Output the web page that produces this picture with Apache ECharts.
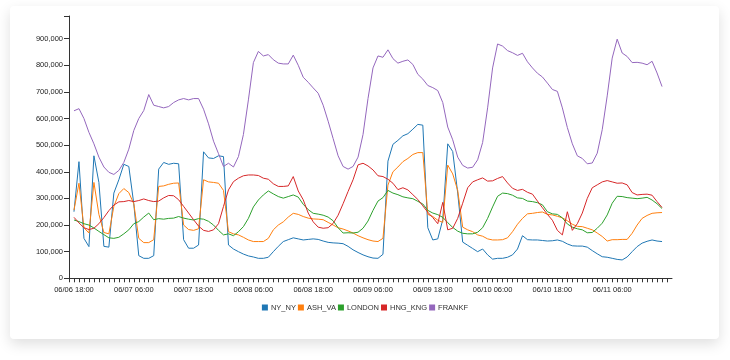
<!DOCTYPE html>
<html>
<head>
<meta charset="utf-8">
<script src="https://cdn.jsdelivr.net/npm/echarts/dist/echarts.min.js"></script>
<style>
  html, body { margin: 0; padding: 0; background: #ffffff; }
  #card { position: absolute; left: 10px; top: 6px; width: 709px; height: 333px; background: #fff;
          border-radius: 4px; box-shadow: 0 5px 14px rgba(0,0,0,0.13); }
  #chart { position: absolute; left: 0; top: 0; width: 730px; height: 360px; }
</style>
</head>
<body>
<div id="card"></div>
<div id="chart"></div>
<script>
// First sample: 06/06 18:00, one sample per hour (hours counted from 06/06 00:00)
const firstHour = 18;
const seriesNames = ['NY_NY', 'ASH_VA', 'LONDON', 'HNG_KNG', 'FRANKF'];
const seriesColors = ['#1f77b4', '#ff7f0e', '#2ca02c', '#d62728', '#9467bd'];

// values in thousands
const NY_NY = [
  250,438,150,119,460,360,120,117,320,370,428,420,280,85,75,75,85,410,435,428,432,430,145,113,113,125,475,452,450,460,
  457,125,110,100,91,84,80,75,75,79,100,120,138,145,152,148,144,146,148,146,140,135,133,132,130,120,107,97,88,81,
  76,75,90,440,503,518,535,543,560,578,575,190,144,148,220,505,476,320,136,124,112,100,110,88,72,75,75,79,88,110,
  160,145,144,144,142,140,141,144,139,129,122,121,121,117,104,92,81,79,75,71,69,80,100,119,132,139,144,140,138
];
const ASH_VA = [
  256,357,190,170,360,240,172,167,270,318,337,322,280,150,134,134,145,345,347,353,357,358,200,183,180,186,370,362,360,357,
  330,175,167,163,154,144,138,138,138,150,182,200,212,230,244,240,232,226,223,222,220,210,200,190,185,178,170,160,152,145,
  140,138,150,350,400,418,438,450,465,472,472,240,232,218,210,425,392,330,192,182,175,163,158,148,144,144,145,152,175,203,
  225,242,244,247,249,240,238,233,227,216,203,195,194,188,182,170,157,140,145,145,146,146,169,200,225,236,244,246,247
];
const LONDON = [
  219,213,205,200,189,176,164,152,150,154,167,182,205,213,230,245,220,224,222,225,226,232,226,222,219,224,222,214,200,180,
  163,167,160,175,194,225,268,294,313,328,317,307,301,307,313,305,278,258,244,241,237,230,216,190,170,171,170,173,188,215,
  255,290,303,330,320,314,306,302,299,289,279,255,245,239,229,209,191,177,169,167,167,173,190,225,268,308,320,318,312,302,
  300,290,288,284,276,250,242,240,227,204,192,186,182,171,172,188,207,238,282,308,307,303,301,299,301,304,294,280,262
];
const HNG_KNG = [
  229,208,190,183,188,205,228,254,275,287,288,292,288,292,298,292,288,290,302,311,310,295,270,245,220,196,180,176,182,205,
  270,332,363,376,385,388,388,386,376,372,355,345,345,347,382,328,295,245,212,192,188,190,206,237,280,326,370,426,432,422,
  407,385,382,372,357,333,340,332,314,296,272,248,228,205,285,182,188,225,282,340,362,370,377,365,366,375,382,358,338,330,
  334,323,316,290,265,240,218,180,163,250,180,205,245,300,340,351,362,367,362,357,358,351,322,313,315,316,312,288,266
];
const FRANKF = [
  629,637,600,548,505,455,418,398,390,405,435,485,555,600,630,690,650,645,640,645,660,670,675,670,675,675,635,580,515,468,
  420,432,418,457,540,670,810,852,835,840,821,808,805,805,838,800,755,736,715,695,650,590,525,460,420,410,420,455,540,675,
  790,835,830,858,825,808,815,820,803,766,748,724,716,705,660,568,520,455,424,414,417,445,510,640,790,880,872,855,847,837,
  845,813,790,770,756,733,709,702,640,566,505,460,450,430,433,470,558,685,827,898,846,833,810,811,808,802,815,771,720
];
const allValues = [NY_NY, ASH_VA, LONDON, HNG_KNG, FRANKF];

const font = "'Liberation Sans', Arial, sans-serif";
const pad = n => (n < 10 ? '0' : '') + n;

const chart = echarts.init(document.getElementById('chart'), null, { renderer: 'canvas' });
chart.setOption({
  animation: false,
  backgroundColor: 'transparent',
  grid: { left: 69, right: 58, top: 16, bottom: 81.7, containLabel: false },
  legend: {
    data: seriesNames,
    left: 'center',
    top: 298.5,
    icon: 'rect',
    itemWidth: 6,
    itemHeight: 6,
    itemGap: 2,
    textStyle: { fontSize: 7.5, color: '#333', fontFamily: font, padding: [0, 0, 0, -2] }
  },
  xAxis: {
    type: 'value',
    min: 17,
    max: 138,
    interval: 1,
    offset: 4,
    axisLine: { show: true, lineStyle: { color: '#333', width: 1 } },
    axisTick: { show: true, length: 4, lineStyle: { color: '#333', width: 1 } },
    splitLine: { show: false },
    axisLabel: {
      showMaxLabel: false,
      showMinLabel: true,
      margin: 4,
      fontSize: 7.5,
      color: '#222',
      fontFamily: font,
      formatter: function (h) {
        if (h % 12 !== 6) return '';
        const day = 6 + Math.floor(h / 24);
        return '06/' + pad(day) + ' ' + pad(h % 24) + ':00';
      }
    }
  },
  yAxis: {
    type: 'value',
    min: 0,
    max: 985,
    interval: 100,
    axisLine: { show: true, lineStyle: { color: '#333', width: 1 } },
    axisTick: { show: true, length: 5, lineStyle: { color: '#333', width: 1 } },
    splitLine: { show: false },
    axisLabel: {
      margin: 6,
      fontSize: 7.5,
      color: '#222',
      fontFamily: font,
      formatter: function (v) {
        if (v % 100 !== 0) return '';
        return (v * 1000).toLocaleString('en-US');
      }
    }
  },
  series: seriesNames.map((name, k) => ({
    name: name,
    type: 'line',
    symbol: 'none',
    color: seriesColors[k],
    lineStyle: { width: 1, color: seriesColors[k] },
    data: allValues[k].map((v, i) => [firstHour + i, v])
  }))
});
</script>
</body>
</html>
